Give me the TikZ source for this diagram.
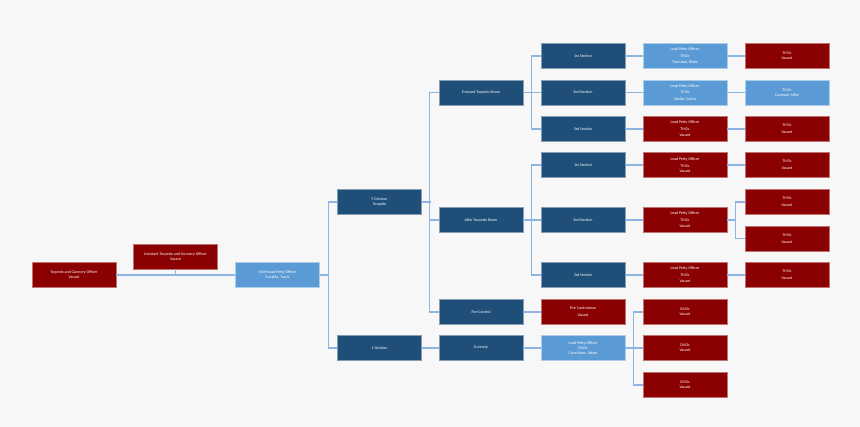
\documentclass[tikz,border=0pt]{standalone}
\usepackage{fontspec}
\setmainfont{Carlito}
\definecolor{bgc}{HTML}{F7F7F7}
\definecolor{dblue}{HTML}{1F4E79}
\definecolor{lblue}{HTML}{5B9BD5}
\definecolor{dred}{HTML}{8B0000}
\definecolor{conn}{HTML}{8EB4E3}
\begin{document}
\begin{tikzpicture}[x=1pt,y=-1pt,
  box/.style={minimum width=84pt,minimum height=25pt,inner sep=0pt,text=white,align=center,
    font=\fontsize{4}{5}\selectfont,line width=0.6pt},
  db/.style={box,fill=dblue,draw=dblue!55!white},
  lb/.style={box,fill=lblue,draw=lblue!50!white},
  rd/.style={box,fill=dred,draw=dred!55!white},
  cn/.style={draw=conn,line width=1.3pt}]
\fill[bgc] (0,0) rectangle (860,427);
\useasboundingbox (0,0) rectangle (860,427);
% column 1-3
\node[rd] (tgo) at (74,275) {Torpedo and Gunnery Officer\\Vacant};
\node[rd] (ast) at (175.5,256.5) {Assistant Torpedo and Gunnery Officer\\Vacant};
\node[lb] (chief) at (277.5,275) {Chief Lead Petty Officer\\Franklin, Travis};
\node[db] (fdiv) at (379.5,202) {F Division\\Torpedo};
\node[db] (idiv) at (379.5,348) {1 Division};
% column 4
\node[db] (fwd) at (481,92.5) {Forward Torpedo Room};
\node[db] (aft) at (481,220) {After Torpedo Room};
\node[db] (fire) at (481,312) {Fire Control};
\node[db] (gun) at (481,348) {Gunnery};
% column 5
\node[db] (s1a) at (583,56) {1st Section};
\node[db] (s2a) at (583,92.5) {2nd Section};
\node[db] (s3a) at (583,129) {3rd Section};
\node[db] (s1b) at (583,165) {1st Section};
\node[db] (s2b) at (583,220) {2nd Section};
\node[db] (s3b) at (583,275) {3rd Section};
\node[rd] (fcm) at (583,312) {Fire Controlman\\[2pt]Vacant};
\node[lb] (lpog) at (583,348) {Lead Petty Officer\\GM2c\\Carruthers, Adam};
% column 6
\node[lb] (lpo1) at (685,56) {Lead Petty Officer\\[1.5pt]TM2c\\[1.5pt]Thornton, Blake};
\node[lb] (lpo2) at (685,92.5) {Lead Petty Officer\\[1.5pt]TM2c\\[1.5pt]Valdez, Carlos};
\node[rd] (lpo3) at (685,129) {Lead Petty Officer\\[1.5pt]TM2c\\[1.5pt]Vacant};
\node[rd] (lpo4) at (685,165) {Lead Petty Officer\\[2pt]TM2c\\Vacant};
\node[rd] (lpo5) at (685,220) {Lead Petty Officer\\[1.5pt]TM2c\\[1.5pt]Vacant};
\node[rd] (lpo6) at (685,275) {Lead Petty Officer\\[1.5pt]TM2c\\[1.5pt]Vacant};
\node[rd] (gm1) at (685,312) {GM3c\\Vacant};
\node[rd] (gm2) at (685,348) {GM3c\\Vacant};
\node[rd] (gm3) at (685,385) {GM3c\\Vacant};
% column 7
\node[rd] (tm1) at (787,56) {TM3c\\Vacant};
\node[lb] (tm2) at (787,92.5) {TM3c\\Cavenah, Mike};
\node[rd] (tm3) at (787,129) {TM3c\\[2pt]Vacant};
\node[rd] (tm4) at (787,165) {TM3c\\[2pt]Vacant};
\node[rd] (tm5a) at (787,202) {TM3c\\[2pt]Vacant};
\node[rd] (tm5b) at (787,238.5) {TM3c\\[2pt]Vacant};
\node[rd] (tm6) at (787,275) {TM3c\\[2pt]Vacant};
% connectors
\draw[cn] (tgo.east) -- (chief.west);
\draw[cn] (ast.south) -- (ast.south |- tgo.east);
\draw[cn] (chief.east) -- ++(9,0);
\draw[cn] (fdiv.west) -- ++(-9,0) |- (idiv.west);
\draw[cn] (fdiv.east) -- ++(9,0);
\draw[cn] (fwd.west) -- ++(-9,0) |- (fire.west);
\draw[cn] (aft.west) -- ++(-9,0);
\draw[cn] (fwd.east) -- (s2a.west);
\draw[cn] (s1a.west) -- ++(-9,0) |- (s3a.west);
\draw[cn] (aft.east) -- (s2b.west);
\draw[cn] (s1b.west) -- ++(-9,0) |- (s3b.west);
\draw[cn] (fire.east) -- (fcm.west);
\draw[cn] (idiv.east) -- (gun.west);
\draw[cn] (gun.east) -- (lpog.west);
\draw[cn] (lpog.east) -- (gm2.west);
\draw[cn] (gm1.west) -- ++(-9,0) |- (gm3.west);
\draw[cn] (s1a.east) -- (lpo1.west);
\draw[cn] (s2a.east) -- (lpo2.west);
\draw[cn] (s3a.east) -- (lpo3.west);
\draw[cn] (s1b.east) -- (lpo4.west);
\draw[cn] (s2b.east) -- (lpo5.west);
\draw[cn] (s3b.east) -- (lpo6.west);
\draw[cn] (lpo1.east) -- (tm1.west);
\draw[cn] (lpo2.east) -- (tm2.west);
\draw[cn] (lpo3.east) -- (tm3.west);
\draw[cn] (lpo4.east) -- (tm4.west);
\draw[cn] (lpo6.east) -- (tm6.west);
\draw[cn] (lpo5.east) -- ++(9,0);
\draw[cn] (tm5a.west) -- ++(-9,0) |- (tm5b.west);
\end{tikzpicture}
\end{document}
